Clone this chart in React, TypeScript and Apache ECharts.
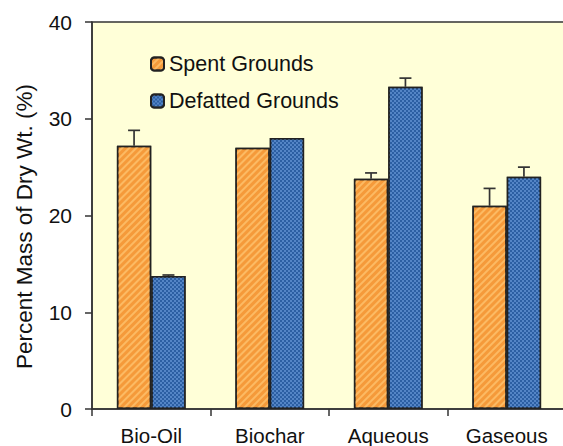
import React, { useEffect, useRef } from "react";
import * as echarts from "echarts";

const categories = ["Bio-Oil", "Biochar", "Aqueous", "Gaseous"];
const spentValues = [27.2, 27.0, 23.8, 21.0];
const spentErrors = [1.6, 0, 0.6, 1.8];
const defattedValues = [13.75, 28.0, 33.3, 24.0];
const defattedErrors = [0.1, 0, 0.9, 1.0];
const seriesNames = ["Spent Grounds", "Defatted Grounds"];
const yTicks = [0, 10, 20, 30, 40];

const GAP = 0.42;

function errorSeries(values: number[], errors: number[], side: number) {
  return {
    type: "custom",
    silent: true,
    z: 5,
    data: values.map((v, i) => [i, v, v + errors[i], errors[i]]),
    renderItem: (params: any, api: any) => {
      const err = api.value(3);
      if (!err) return null;
      const idx = api.value(0);
      const band = api.size([1, 0])[0];
      const bw = (band * (1 - GAP)) / 2;
      const base = api.coord([idx, api.value(1)]);
      const top = api.coord([idx, api.value(2)]);
      const x = base[0] + (side * bw) / 2;
      const cap = 6;
      const style = { stroke: "#333", lineWidth: 1.7, fill: "none" };
      return {
        type: "group",
        children: [
          { type: "line", shape: { x1: x, y1: base[1], x2: x, y2: top[1] }, style },
          { type: "line", shape: { x1: x - cap, y1: top[1], x2: x + cap, y2: top[1] }, style },
        ],
      };
    },
  };
}

export default function App() {
  const ref = useRef<HTMLDivElement>(null);
  useEffect(() => {
    if (!ref.current) return;
    document.body.style.margin = "0";
    document.body.style.overflow = "hidden";
    const chart = echarts.init(ref.current, null, { renderer: "svg" });
    const font = "Liberation Sans, Arial, sans-serif";
    chart.setOption({
      animation: false,
      textStyle: { fontFamily: font },
      grid: {
        left: 92,
        top: 22,
        width: 474,
        height: 387,
        outerBoundsMode: "none",
        containLabel: false,
        show: true,
        backgroundColor: "#FFFFD8",
        borderColor: "#333",
        borderWidth: 1.5,
      },
      legend: {
        orient: "vertical",
        left: 150,
        top: 53,
        padding: 0,
        itemWidth: 13,
        itemHeight: 13,
        itemGap: 15,
        data: seriesNames,
        textStyle: { fontSize: 21.5, color: "#111", fontFamily: font },
      },
      xAxis: {
        type: "category",
        data: categories,
        axisLine: { show: true, lineStyle: { color: "#333", width: 1.5 } },
        axisTick: { show: true, length: 7, lineStyle: { color: "#333", width: 1.5 } },
        axisLabel: { fontSize: 20.5, color: "#111", margin: 16, fontFamily: font },
      },
      yAxis: {
        type: "value",
        min: 0,
        max: 40,
        interval: 10,
        name: "Percent Mass of Dry Wt. (%)",
        nameLocation: "middle",
        nameGap: 56,
        nameTextStyle: {
          fontSize: 22.5,
          color: "#111",
          fontFamily: font,
          padding: [0, 22, 0, 0],
        },
        splitLine: { show: false },
        axisLine: { show: true, lineStyle: { color: "#333", width: 1.5 } },
        axisTick: { show: true, length: 7, lineStyle: { color: "#333", width: 1.5 } },
        axisLabel: {
          fontSize: 21,
          color: "#111",
          margin: 20,
          fontFamily: font,
          formatter: (v: number) => (yTicks.includes(v) ? String(v) : ""),
        },
      },
      series: [
        {
          name: seriesNames[0],
          type: "bar",
          data: spentValues,
          barGap: "0%",
          barCategoryGap: GAP * 100 + "%",
          itemStyle: {
            color: "#F59A3A",
            borderColor: "#222",
            borderWidth: 1.5,
            decal: {
              symbol: "rect",
              color: "rgba(255, 196, 112, 0.75)",
              dashArrayX: [1, 0],
              dashArrayY: [2, 3],
              rotation: -Math.PI / 4,
            },
          },
        },
        {
          name: seriesNames[1],
          type: "bar",
          data: defattedValues,
          itemStyle: {
            color: "#2C5FA3",
            borderColor: "#222",
            borderWidth: 1.5,
            decal: {
              symbol: "rect",
              color: "rgba(90, 140, 205, 0.85)",
              dashArrayX: [[2, 2], [0, 2, 2, 0]],
              dashArrayY: [2, 0],
              rotation: 0,
            },
          },
        },
        errorSeries(spentValues, spentErrors, -1),
        errorSeries(defattedValues, defattedErrors, 1),
      ],
    });
    return () => chart.dispose();
  }, []);
  return (
    <div
      ref={ref}
      style={{ position: "absolute", left: 0, top: 0, width: 563, height: 446 }}
    />
  );
}
